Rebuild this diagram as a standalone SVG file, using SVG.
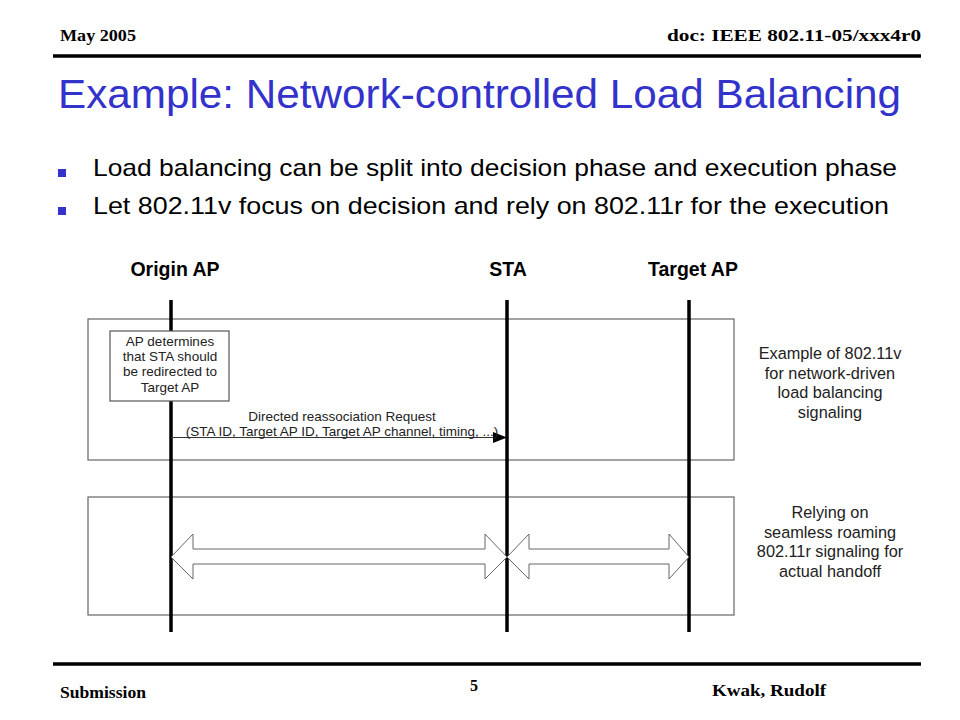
<svg xmlns="http://www.w3.org/2000/svg" width="960" height="720" viewBox="0 0 960 720">
<style>
.hdr{font-family:"Liberation Serif",serif;font-weight:bold;font-size:16px;fill:#000}
.title{font-family:"Liberation Sans",sans-serif;font-size:40px;fill:#3333CC}
.bul{font-family:"Liberation Sans",sans-serif;font-size:24px;fill:#000}
.col{font-family:"Liberation Sans",sans-serif;font-weight:bold;font-size:19.5px;fill:#000;text-anchor:middle}
.small{font-family:"Liberation Sans",sans-serif;font-size:13.5px;fill:#222;text-anchor:middle}
.side{font-family:"Liberation Sans",sans-serif;font-size:16.3px;fill:#222;text-anchor:middle}
.frame{fill:none;stroke:#666;stroke-width:1.2}
.life{stroke:#000;stroke-width:3.5}
.dbl{fill:#fff;stroke:#666;stroke-width:1}
</style>
<rect width="960" height="720" fill="#fff"/>
<g id="header">
<text class="hdr" x="60" y="41" textLength="76" lengthAdjust="spacingAndGlyphs">May 2005</text>
<text class="hdr" x="921" y="41" text-anchor="end" textLength="254" lengthAdjust="spacingAndGlyphs">doc: IEEE 802.11-05/xxx4r0</text>
<line x1="53" y1="56" x2="921" y2="56" stroke="#000" stroke-width="3.5"/>
</g>
<text class="title" x="58" y="108" textLength="843" lengthAdjust="spacingAndGlyphs">Example: Network-controlled Load Balancing</text>
<g id="bullets">
<rect x="58" y="169" width="8" height="8" fill="#3333CC"/>
<text class="bul" x="93" y="176" textLength="804" lengthAdjust="spacingAndGlyphs">Load balancing can be split into decision phase and execution phase</text>
<rect x="58" y="207" width="8" height="8" fill="#3333CC"/>
<text class="bul" x="93" y="214" textLength="796" lengthAdjust="spacingAndGlyphs">Let 802.11v focus on decision and rely on 802.11r for the execution</text>
</g>
<g id="frames">
<rect class="frame" x="88" y="319" width="646" height="141"/>
<rect class="frame" x="88" y="497" width="646" height="118"/>
</g>
<g id="lifelines">
<text class="col" x="175" y="276">Origin AP</text>
<text class="col" x="508" y="276">STA</text>
<text class="col" x="693" y="276">Target AP</text>
<line class="life" x1="171" y1="300" x2="171" y2="632"/>
<line class="life" x1="507" y1="300" x2="507" y2="632"/>
<line class="life" x1="689" y1="300" x2="689" y2="632"/>
</g>
<g id="decision">
<rect x="110" y="331" width="119" height="70" fill="#fff" stroke="#555" stroke-width="1.2"/>
<text class="small" x="170" y="346">AP determines</text>
<text class="small" x="170" y="361">that STA should</text>
<text class="small" x="170" y="376">be redirected to</text>
<text class="small" x="170" y="392">Target AP</text>
</g>
<g id="connectors">
<line x1="171" y1="437.5" x2="494" y2="437.5" stroke="#333" stroke-width="1"/>
<polygon points="493,432 507,437.5 493,443" fill="#000"/>
<text class="small" x="342" y="421">Directed reassociation Request</text>
<text class="small" x="342" y="436">(STA ID, Target AP ID, Target AP channel, timing, ...)</text>
<polygon class="dbl" points="171,557 193,534 193,549 485,549 485,534 507,557 485,579 485,564 193,564 193,579"/>
<polygon class="dbl" points="507,557 529,534 529,549 669,549 669,534 689,557 669,579 669,564 529,564 529,579"/>
</g>
<g id="notes">
<text class="side" x="830" y="359">Example of 802.11v</text>
<text class="side" x="830" y="379">for network-driven</text>
<text class="side" x="830" y="398">load balancing</text>
<text class="side" x="830" y="418">signaling</text>
<text class="side" x="830" y="518">Relying on</text>
<text class="side" x="830" y="538">seamless roaming</text>
<text class="side" x="830" y="557">802.11r signaling for</text>
<text class="side" x="830" y="577">actual handoff</text>
</g>
<g id="footer">
<line x1="53" y1="664" x2="921" y2="664" stroke="#000" stroke-width="3.5"/>
<text class="hdr" x="60" y="698" textLength="86" lengthAdjust="spacingAndGlyphs">Submission</text>
<text class="hdr" x="474" y="691" text-anchor="middle">5</text>
<text class="hdr" x="712" y="696" textLength="114" lengthAdjust="spacingAndGlyphs">Kwak, Rudolf</text>
</g>
</svg>
